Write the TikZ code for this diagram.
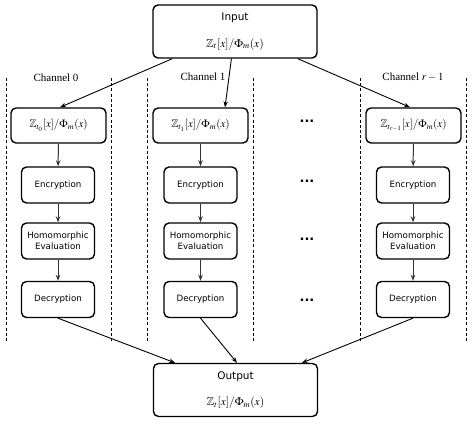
\documentclass[tikz,border=0pt]{standalone}
\usepackage{amssymb}
\usepackage{mathptmx}
\usepackage[no-math]{fontspec}
\setmainfont{Liberation Serif}
\setsansfont{DejaVu Sans}
\usetikzlibrary{arrows.meta,calc}
\begin{document}
\begin{tikzpicture}[x=1pt,y=-1pt,
  box/.style={draw,line width=1.4pt,rounded corners=5pt,inner sep=1pt,align=center},
  bigbox/.style={box,minimum width=164pt,minimum height=53pt,font=\fontsize{10.5}{12.5}\selectfont\sffamily},
  zbox/.style={box,minimum width=95pt,minimum height=35pt,font=\fontsize{11}{13}\selectfont},
  stepbox/.style={box,minimum width=73pt,minimum height=36pt,font=\fontsize{8.7}{10.5}\selectfont\sffamily},
  sep/.style={line width=0.9pt,dash pattern=on 3pt off 2.2pt},
  arr/.style={line width=0.9pt,-{Stealth[length=6pt,width=4.5pt]}},
  varr/.style={arr,line width=1pt,draw=black!80},
  chlab/.style={font=\fontsize{11}{13}\selectfont},
  dots/.style={font=\fontsize{13}{15}\selectfont\sffamily\bfseries}]
\useasboundingbox (0,0) rectangle (472,443);
% separators
\coordinate (s1t) at (6,78);   \coordinate (s1b) at (6,343);
\coordinate (s2t) at (111,78); \coordinate (s2b) at (111,343);
\coordinate (s3t) at (147,78); \coordinate (s3b) at (147,343);
\coordinate (s4t) at (253,78); \coordinate (s4b) at (253,343);
\coordinate (s5t) at (360,78); \coordinate (s5b) at (360,343);
\coordinate (s6t) at (466,78); \coordinate (s6b) at (466,343);
\foreach \i in {1,...,6} \draw[sep] (s\i t) -- (s\i b);
% labels
\node[chlab] (c0) at (56,78) {Channel 0};
\node[chlab] (c1) at (203,77) {Channel 1};
\node[chlab] (c2) at (413,77) {Channel $r-1$};
% input / output
\node[bigbox] (in) at (235,31.5) {Input\\[14pt]{\fontsize{11.5}{13}\selectfont$\mathbb{Z}_t[x]/\Phi_m(x)$}};
\node[bigbox] (out) at (235.5,390) {Output\\[14pt]{\fontsize{11.5}{13}\selectfont$\mathbb{Z}_t[x]/\Phi_m(x)$}};
% channel 0
\node[zbox] (z0) at (58.5,125.5) {$\mathbb{Z}_{t_0}[x]/\Phi_m(x)$};
\node[stepbox] (e0) at (58,185) {Encryption};
\node[stepbox] (h0) at (58,241) {Homomorphic\\Evaluation};
\node[stepbox] (d0) at (58,299.5) {Decryption};
% channel 1
\node[zbox] (z1) at (200.5,125.5) {$\mathbb{Z}_{t_1}[x]/\Phi_m(x)$};
\node[stepbox] (e1) at (200.5,185) {Encryption};
\node[stepbox] (h1) at (200.5,241) {Homomorphic\\Evaluation};
\node[stepbox] (d1) at (200.5,299.5) {Decryption};
% channel r-1
\node[zbox] (z2) at (413.5,125.5) {$\mathbb{Z}_{t_{r-1}}[x]/\Phi_m(x)$};
\node[stepbox] (e2) at (413,185) {Encryption};
\node[stepbox] (h2) at (413,241) {Homomorphic\\Evaluation};
\node[stepbox] (d2) at (413,299.5) {Decryption};
% dots
\node[dots] (p0) at (307,121) {...};
\node[dots] (p1) at (307,181) {...};
\node[dots] (p2) at (307,239) {...};
\node[dots] (p3) at (307,300) {...};
% arrows
\draw[arr] (in) -- ([xshift=1.5pt]z0.north);
\draw[arr] (in) -- ([xshift=24.5pt]z1.north);
\draw[arr] (in) -- ([xshift=-3.5pt]z2.north);
\foreach \c in {0,1,2} {
  \draw[varr] (z\c) -- (e\c);
  \draw[varr] (e\c) -- (h\c);
  \draw[varr] (h\c) -- (d\c);
}
\draw[arr] (d0.south) -- ([xshift=-60.5pt]out.north);
\draw[arr] (d1.south) -- ([xshift=1.5pt]out.north);
\draw[arr] (d2.south) -- ([xshift=66.5pt]out.north);
\end{tikzpicture}
\end{document}
